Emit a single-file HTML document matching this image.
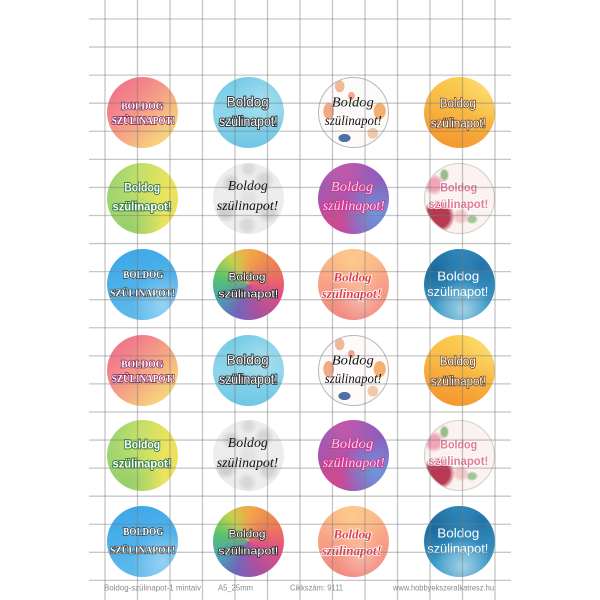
<!DOCTYPE html>
<html>
<head>
<meta charset="utf-8">
<style>
  html,body{margin:0;padding:0;background:#fff;}
  #wrap{position:relative;width:600px;height:600px;overflow:hidden;background:#fff;}
  .c{position:absolute;width:71px;height:71px;border-radius:50%;box-sizing:border-box;}
  .d1{background:linear-gradient(135deg,#f06888 0%,#f3848a 30%,#f5a884 55%,#f7cc7e 78%,#f8e27a 100%);}
  .d2{background:radial-gradient(ellipse at 70% 30%,rgba(255,255,255,0.25),transparent 45%),linear-gradient(180deg,#72cbe7 0%,#8ed5eb 50%,#6ec7e5 100%);}
  .d3{background:
      radial-gradient(ellipse 7% 9% at 30% 12%,#f0b898 0 95%,transparent 100%),
      radial-gradient(ellipse 5% 6% at 47% 26%,#f2a890 0 95%,transparent 100%),
      radial-gradient(ellipse 8% 12% at 14% 48%,#f0aa88 0 95%,transparent 100%),
      radial-gradient(ellipse 9% 12% at 88% 48%,#f4b070 0 95%,transparent 100%),
      radial-gradient(ellipse 9% 6% at 37% 87%,#4d70a8 0 95%,transparent 100%),
      radial-gradient(ellipse 8% 8% at 78% 80%,#f1c8a8 0 95%,transparent 100%),
      #fdfbfa;border:1px solid #b8b8b8;}
  .d4{background:radial-gradient(circle at 95% 10%,rgba(255,230,140,0.6),transparent 40%),linear-gradient(200deg,#fcd555 0%,#f9bf47 40%,#f6a337 72%,#f39329 100%);}
  .d5{background:radial-gradient(circle at 30% 90%,rgba(130,200,110,0.7),transparent 45%),linear-gradient(100deg,#94d275 0%,#c4df68 42%,#ece45c 78%,#f0dd60 100%);}
  .d6{background:
      radial-gradient(circle at 25% 28%,#d2d2d2 0 5%,transparent 13%),
      radial-gradient(circle at 72% 24%,#d6d6d6 0 6%,transparent 14%),
      radial-gradient(circle at 18% 68%,#cfcfcf 0 7%,transparent 15%),
      radial-gradient(circle at 78% 70%,#d4d4d4 0 7%,transparent 15%),
      radial-gradient(circle at 48% 88%,#d8d8d8 0 6%,transparent 14%),
      radial-gradient(circle at 50% 50%,#e2e2e2 0 10%,transparent 22%),
      radial-gradient(circle at 50% 8%,#dadada 0 5%,transparent 12%),
      #ededed;}
  .d7{background:
      radial-gradient(circle at 82% 72%,#6c98da 0%,transparent 45%),
      radial-gradient(circle at 22% 82%,#d6468c 0%,transparent 50%),
      radial-gradient(circle at 35% 12%,#c458a8 0%,transparent 50%),
      #8e5cc0;}
  .d8{background:
      radial-gradient(circle at 19% 76%,#b83a52 0 15%,transparent 22%),
      radial-gradient(circle at 13% 30%,#f0a6b6 0 8%,transparent 14%),
      radial-gradient(circle at 52% 76%,#f6c8cc 0 8%,transparent 13%),
      radial-gradient(ellipse 7% 10% at 28% 16%,#98bc8c 0 60%,transparent 100%),
      radial-gradient(ellipse 9% 7% at 68% 80%,#a2c698 0 60%,transparent 100%),
      #faf3f2;border:1px solid #d6cccc;}
  .d9{background:radial-gradient(ellipse at 78% 78%,rgba(255,255,255,0.35),transparent 40%),linear-gradient(160deg,#3aa5e6 0%,#4fb2ea 50%,#68bfee 100%);}
  .d10{background:
      radial-gradient(circle at 55% 55%,rgba(200,90,140,0.35),transparent 55%),
      conic-gradient(from 0deg,#f2a848,#ef7a56 60deg,#e44c86 110deg,#a850a0 160deg,#6c66c0 205deg,#48a6b2 245deg,#58c46a 285deg,#c6d24e 325deg,#f2a848 360deg);}
  .d11{background:
      radial-gradient(circle at 50% 15%,#fcca8c 0%,transparent 50%),
      radial-gradient(ellipse at 60% 70%,rgba(255,235,225,0.4),transparent 40%),
      linear-gradient(180deg,#fbba88 0%,#f8a086 50%,#f08880 100%);}
  .d12{background:
      radial-gradient(circle at 55% 85%,#a4d2e6 0%,transparent 40%),
      radial-gradient(circle at 82% 22%,#2472aa 0%,transparent 45%),
      radial-gradient(circle at 15% 30%,#1c6a9c 0%,transparent 45%),
      linear-gradient(135deg,#2a84b6,#3e9cc8 50%,#3090c0);}
  svg{position:absolute;left:0;top:0;}
  text{dominant-baseline:central;text-anchor:middle;}
  .up1{font-family:"Liberation Serif",serif;font-weight:bold;font-size:11px;fill:#fff;stroke:#7a2060;stroke-width:1.4px;paint-order:stroke;}
  .up9{font-family:"Liberation Serif",serif;font-weight:bold;font-size:11px;fill:#fff;stroke:#333;stroke-width:1.3px;paint-order:stroke;}
  .cm{font-family:"Liberation Sans",sans-serif;font-size:14px;fill:#fff;stroke:#2a2a2a;stroke-width:1.8px;paint-order:stroke;}
  .sc{font-family:"Liberation Serif",serif;font-style:italic;font-size:14px;fill:#111;}
  .or{font-family:"Liberation Sans",sans-serif;font-size:13px;fill:#fff;stroke:#6a4020;stroke-width:1.6px;paint-order:stroke;}
  .gr{font-family:"Liberation Sans",sans-serif;font-weight:bold;font-size:12px;fill:#fff;stroke:#2e7a3c;stroke-width:1.8px;paint-order:stroke;}
  .pk{font-family:"Liberation Serif",serif;font-style:italic;font-size:14px;fill:#fbd4ee;stroke:#d4308c;stroke-width:1.6px;paint-order:stroke;}
  .fl{font-family:"Liberation Sans",sans-serif;font-weight:bold;font-size:12px;fill:#e27a98;stroke:#fff;stroke-width:1.5px;paint-order:stroke;}
  .rb{font-family:"Liberation Sans",sans-serif;font-size:11px;fill:#fff;stroke:#2a2a2a;stroke-width:1.6px;paint-order:stroke;}
  .rd{font-family:"Liberation Serif",serif;font-style:italic;font-weight:bold;font-size:13px;fill:#e0404c;stroke:#fff;stroke-width:1.6px;paint-order:stroke;}
  .wh{font-family:"Liberation Sans",sans-serif;font-size:13px;fill:#fff;}
  .ft{font-family:"Liberation Sans",sans-serif;font-size:8.5px;fill:#8a8a8a;dominant-baseline:alphabetic;text-anchor:start;}
</style>
</head>
<body>
<div id="wrap">
  <div class="c d1" style="left:106.5px;top:76.5px"></div>
  <div class="c d2" style="left:212.5px;top:76.5px"></div>
  <div class="c d3" style="left:317.5px;top:76.5px"></div>
  <div class="c d4" style="left:423.5px;top:76.5px"></div>
  <div class="c d5" style="left:106.5px;top:163px"></div>
  <div class="c d6" style="left:212.5px;top:163px"></div>
  <div class="c d7" style="left:317.5px;top:163px"></div>
  <div class="c d8" style="left:423.5px;top:163px"></div>
  <div class="c d9" style="left:106.5px;top:248.5px"></div>
  <div class="c d10" style="left:212.5px;top:248.5px"></div>
  <div class="c d11" style="left:317.5px;top:248.5px"></div>
  <div class="c d12" style="left:423.5px;top:248.5px"></div>
  <div class="c d1" style="left:106.5px;top:334.5px"></div>
  <div class="c d2" style="left:212.5px;top:334.5px"></div>
  <div class="c d3" style="left:317.5px;top:334.5px"></div>
  <div class="c d4" style="left:423.5px;top:334.5px"></div>
  <div class="c d5" style="left:106.5px;top:420px"></div>
  <div class="c d6" style="left:212.5px;top:420px"></div>
  <div class="c d7" style="left:317.5px;top:420px"></div>
  <div class="c d8" style="left:423.5px;top:420px"></div>
  <div class="c d9" style="left:106.5px;top:505.5px"></div>
  <div class="c d10" style="left:212.5px;top:505.5px"></div>
  <div class="c d11" style="left:317.5px;top:505.5px"></div>
  <div class="c d12" style="left:423.5px;top:505.5px"></div>

  <svg width="600" height="600" viewBox="0 0 600 600" xmlns="http://www.w3.org/2000/svg">
    <text class="up1" x="142.2" y="106.7" textLength="42" lengthAdjust="spacingAndGlyphs">BOLDOG</text>
    <text class="up1" x="143.3" y="121" textLength="63" lengthAdjust="spacingAndGlyphs">SZÜLINAPOT!</text>
    <text class="cm" x="247.8" y="101.7" textLength="42" lengthAdjust="spacingAndGlyphs">Boldog</text>
    <text class="cm" x="248.3" y="121" textLength="58.7" lengthAdjust="spacingAndGlyphs">szülinapot!</text>
    <text class="sc" x="352.8" y="103" textLength="42" lengthAdjust="spacingAndGlyphs">Boldog</text>
    <text class="sc" x="353.3" y="121.7" textLength="57" lengthAdjust="spacingAndGlyphs">szülinapot!</text>
    <text class="or" x="457.8" y="103" textLength="36" lengthAdjust="spacingAndGlyphs">Boldog</text>
    <text class="or" x="458.3" y="123" textLength="55" lengthAdjust="spacingAndGlyphs">szülinapot!</text>

    <text class="gr" x="142.2" y="187.7" textLength="36" lengthAdjust="spacingAndGlyphs">Boldog</text>
    <text class="gr" x="142" y="206.7" textLength="59" lengthAdjust="spacingAndGlyphs">szülinapot!</text>
    <text class="sc" x="247.8" y="186.7" textLength="40" lengthAdjust="spacingAndGlyphs">Boldog</text>
    <text class="sc" x="247.5" y="206.7" textLength="61.6" lengthAdjust="spacingAndGlyphs">szülinapot!</text>
    <text class="pk" x="352" y="187.7" textLength="42.6" lengthAdjust="spacingAndGlyphs">Boldog</text>
    <text class="pk" x="353.8" y="206.7" textLength="62" lengthAdjust="spacingAndGlyphs">szülinapot!</text>
    <text class="fl" x="458.7" y="187.7" textLength="37" lengthAdjust="spacingAndGlyphs">Boldog</text>
    <text class="fl" x="458.3" y="204" textLength="60" lengthAdjust="spacingAndGlyphs">szülinapot!</text>

    <text class="up9" x="143.3" y="275" textLength="40" lengthAdjust="spacingAndGlyphs">BOLDOG</text>
    <text class="up9" x="142.5" y="293.3" textLength="65" lengthAdjust="spacingAndGlyphs">SZÜLINAPOT!</text>
    <text class="rb" x="247" y="277.7" textLength="37" lengthAdjust="spacingAndGlyphs">Boldog</text>
    <text class="rb" x="248.3" y="294.3" textLength="60" lengthAdjust="spacingAndGlyphs">szülinapot!</text>
    <text class="rd" x="352.5" y="277" textLength="38" lengthAdjust="spacingAndGlyphs">Boldog</text>
    <text class="rd" x="351.7" y="293.3" textLength="60" lengthAdjust="spacingAndGlyphs">szülinapot!</text>
    <text class="wh" x="458.3" y="276" textLength="42" lengthAdjust="spacingAndGlyphs">Boldog</text>
    <text class="wh" x="457.8" y="291.7" textLength="61" lengthAdjust="spacingAndGlyphs">szülinapot!</text>

    <text class="up1" x="142.2" y="364.7" textLength="42" lengthAdjust="spacingAndGlyphs">BOLDOG</text>
    <text class="up1" x="143.3" y="379" textLength="63" lengthAdjust="spacingAndGlyphs">SZÜLINAPOT!</text>
    <text class="cm" x="247.8" y="359.7" textLength="42" lengthAdjust="spacingAndGlyphs">Boldog</text>
    <text class="cm" x="248.3" y="379" textLength="58.7" lengthAdjust="spacingAndGlyphs">szülinapot!</text>
    <text class="sc" x="352.8" y="361" textLength="42" lengthAdjust="spacingAndGlyphs">Boldog</text>
    <text class="sc" x="353.3" y="379.7" textLength="57" lengthAdjust="spacingAndGlyphs">szülinapot!</text>
    <text class="or" x="457.8" y="361" textLength="36" lengthAdjust="spacingAndGlyphs">Boldog</text>
    <text class="or" x="458.3" y="381" textLength="55" lengthAdjust="spacingAndGlyphs">szülinapot!</text>

    <text class="gr" x="142.2" y="444.7" textLength="36" lengthAdjust="spacingAndGlyphs">Boldog</text>
    <text class="gr" x="142" y="463.7" textLength="59" lengthAdjust="spacingAndGlyphs">szülinapot!</text>
    <text class="sc" x="247.8" y="443.7" textLength="40" lengthAdjust="spacingAndGlyphs">Boldog</text>
    <text class="sc" x="247.5" y="463.7" textLength="61.6" lengthAdjust="spacingAndGlyphs">szülinapot!</text>
    <text class="pk" x="352" y="444.7" textLength="42.6" lengthAdjust="spacingAndGlyphs">Boldog</text>
    <text class="pk" x="353.8" y="463.7" textLength="62" lengthAdjust="spacingAndGlyphs">szülinapot!</text>
    <text class="fl" x="458.7" y="444.7" textLength="37" lengthAdjust="spacingAndGlyphs">Boldog</text>
    <text class="fl" x="458.3" y="461" textLength="60" lengthAdjust="spacingAndGlyphs">szülinapot!</text>

    <text class="up9" x="143.3" y="532" textLength="40" lengthAdjust="spacingAndGlyphs">BOLDOG</text>
    <text class="up9" x="142.5" y="550.3" textLength="65" lengthAdjust="spacingAndGlyphs">SZÜLINAPOT!</text>
    <text class="rb" x="247" y="534.7" textLength="37" lengthAdjust="spacingAndGlyphs">Boldog</text>
    <text class="rb" x="248.3" y="551.3" textLength="60" lengthAdjust="spacingAndGlyphs">szülinapot!</text>
    <text class="rd" x="352.5" y="534" textLength="38" lengthAdjust="spacingAndGlyphs">Boldog</text>
    <text class="rd" x="351.7" y="550.3" textLength="60" lengthAdjust="spacingAndGlyphs">szülinapot!</text>
    <text class="wh" x="458.3" y="533" textLength="42" lengthAdjust="spacingAndGlyphs">Boldog</text>
    <text class="wh" x="457.8" y="548.7" textLength="61" lengthAdjust="spacingAndGlyphs">szülinapot!</text>

    <text class="ft" x="104" y="590.5" textLength="97" lengthAdjust="spacingAndGlyphs">Boldog-szülinapot-1  mintaiv</text>
    <text class="ft" x="218" y="590.5" textLength="35" lengthAdjust="spacingAndGlyphs">A5_25mm</text>
    <text class="ft" x="290" y="590.5" textLength="53" lengthAdjust="spacingAndGlyphs">Cikkszám: 9111</text>
    <text class="ft" x="393" y="590.5" textLength="101" lengthAdjust="spacingAndGlyphs">www.hobbyekszeralkatresz.hu</text>

    <g stroke="#7a7a7a" stroke-opacity="0.42" stroke-width="1.3" fill="none">
      <path d="M105 0V600M137.5 0V600M170 0V600M202.5 0V600M235 0V600M267.5 0V600M300 0V600M332.5 0V600M365 0V600M397.5 0V600M430 0V600M462.5 0V600M495 0V600"/>
      <path d="M89 19H511M89 47.07H511M89 75.14H511M89 103.21H511M89 131.28H511M89 159.35H511M89 187.42H511M89 215.49H511M89 243.56H511M89 271.63H511M89 299.7H511M89 327.77H511M89 355.84H511M89 383.91H511M89 411.98H511M89 440.05H511M89 468.12H511M89 496.19H511M89 524.26H511M89 552.33H511M89 580.4H511"/>
    </g>
  </svg>
</div>
</body>
</html>
